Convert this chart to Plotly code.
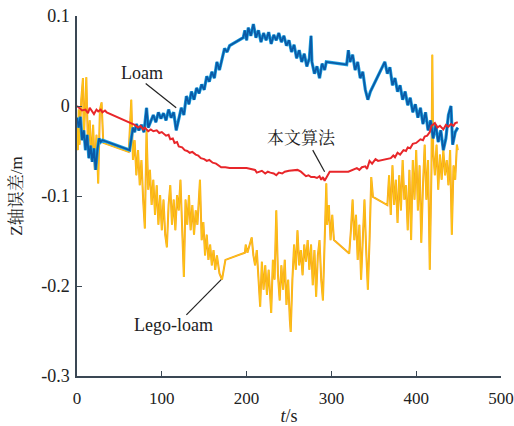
import plotly.graph_objects as go

# 本文算法 (red)
ours_t = [0, 3, 6, 10, 13, 15, 18, 20, 23, 25, 28, 30, 33, 35, 68, 72, 75, 78, 80, 84, 87, 90, 94, 97, 100, 103, 105, 108, 110, 113, 115, 118, 120, 124, 127, 130, 133, 136, 140, 143, 146, 150, 153, 156, 160, 164, 167, 170, 175, 180, 200, 205, 210, 212, 215, 218, 222, 225, 228, 232, 235, 238, 242, 245, 250, 260, 264, 268, 270, 273, 276, 280, 283, 286, 288, 290, 292, 295, 298, 320, 325, 330, 333, 336, 340, 342, 345, 348, 352, 355, 370, 373, 375, 378, 381, 385, 388, 390, 393, 396, 400, 405, 408, 410, 413, 416, 418, 422, 425, 428, 432, 435, 438, 441, 444, 446, 449]
ours_v = [0.0, -0.002, -0.005, -0.004, -0.008, -0.002, -0.006, -0.009, -0.004, -0.006, -0.004, -0.007, -0.005, -0.007, -0.021, -0.024, -0.022, -0.026, -0.024, -0.028, -0.026, -0.028, -0.027, -0.030, -0.029, -0.031, -0.033, -0.032, -0.037, -0.036, -0.041, -0.040, -0.045, -0.046, -0.049, -0.050, -0.052, -0.051, -0.054, -0.055, -0.058, -0.059, -0.061, -0.060, -0.063, -0.064, -0.066, -0.068, -0.068, -0.069, -0.069, -0.070, -0.071, -0.074, -0.073, -0.072, -0.075, -0.073, -0.074, -0.075, -0.077, -0.074, -0.075, -0.073, -0.072, -0.071, -0.073, -0.076, -0.078, -0.077, -0.079, -0.079, -0.080, -0.078, -0.082, -0.079, -0.083, -0.078, -0.073, -0.073, -0.071, -0.069, -0.071, -0.068, -0.067, -0.070, -0.061, -0.064, -0.059, -0.061, -0.058, -0.055, -0.057, -0.052, -0.054, -0.049, -0.050, -0.046, -0.047, -0.042, -0.041, -0.037, -0.038, -0.034, -0.033, -0.029, -0.022, -0.019, -0.024, -0.022, -0.026, -0.021, -0.023, -0.020, -0.022, -0.019, -0.018]

# Loam (blue)
loam_t = [0, 2, 4, 6, 8, 10, 12, 14, 16, 18, 20, 22, 24, 26, 28, 30, 62, 64, 66, 68, 70, 73, 76, 79, 82, 84, 87, 90, 93, 96, 99, 102, 105, 108, 111, 114, 117, 120, 123, 126, 129, 132, 135, 138, 141, 144, 147, 150, 153, 156, 159, 162, 165, 168, 171, 174, 177, 180, 196, 198, 200, 202, 205, 208, 211, 214, 217, 220, 223, 226, 229, 232, 235, 238, 241, 244, 247, 250, 253, 256, 259, 262, 265, 268, 271, 274, 276, 277, 280, 283, 286, 289, 292, 294, 318, 320, 322, 325, 328, 331, 334, 337, 340, 343, 346, 363, 366, 369, 372, 375, 378, 381, 384, 387, 390, 393, 396, 399, 402, 405, 408, 411, 414, 417, 420, 423, 426, 429, 432, 435, 438, 441, 443, 446, 449]
loam_v = [-0.013, -0.024, -0.012, -0.038, -0.027, -0.049, -0.032, -0.058, -0.044, -0.062, -0.047, -0.071, -0.049, -0.036, -0.040, -0.038, -0.049, -0.038, -0.024, -0.029, -0.020, -0.027, -0.021, -0.029, -0.002, -0.024, -0.016, -0.010, -0.018, -0.007, -0.014, -0.008, -0.016, -0.004, -0.013, -0.007, -0.027, -0.013, -0.002, -0.010, 0.011, 0.002, 0.016, 0.007, 0.020, 0.014, 0.024, 0.018, 0.033, 0.027, 0.038, 0.031, 0.049, 0.040, 0.053, 0.064, 0.060, 0.067, 0.076, 0.084, 0.073, 0.087, 0.078, 0.091, 0.076, 0.084, 0.071, 0.081, 0.073, 0.082, 0.069, 0.079, 0.073, 0.081, 0.071, 0.078, 0.067, 0.073, 0.060, 0.068, 0.053, 0.062, 0.049, 0.058, 0.044, 0.053, 0.078, 0.049, 0.036, 0.044, 0.031, 0.047, 0.040, 0.049, 0.046, 0.062, 0.049, 0.057, 0.040, 0.049, 0.031, 0.038, 0.018, 0.007, 0.016, 0.049, 0.036, 0.043, 0.023, 0.031, 0.016, 0.023, 0.007, 0.016, 0.001, 0.009, -0.007, 0.002, -0.013, -0.002, -0.020, -0.007, -0.027, -0.016, -0.036, -0.021, -0.040, -0.027, -0.049, -0.036, -0.010, 0.000, -0.043, -0.029, -0.024]

# Lego-loam (orange/yellow)
lego_t = [0, 1, 2, 3, 5, 7, 8, 10, 11, 13, 15, 17, 19, 21, 23, 25, 27, 29, 31, 61, 63, 64, 66, 68, 70, 72, 74, 76, 78, 80, 82, 84, 86, 88, 90, 92, 94, 96, 98, 100, 102, 104, 106, 108, 110, 112, 114, 116, 118, 120, 122, 124, 126, 128, 130, 132, 134, 136, 138, 140, 142, 145, 147, 149, 151, 153, 155, 157, 159, 161, 163, 165, 168, 171, 173, 175, 198, 199, 201, 204, 206, 208, 210, 212, 214, 216, 218, 220, 222, 224, 226, 228, 229, 231, 233, 235, 237, 239, 241, 243, 245, 247, 249, 251, 252, 254, 256, 258, 260, 262, 264, 266, 268, 270, 272, 274, 276, 278, 280, 282, 284, 286, 288, 290, 292, 294, 295, 297, 299, 301, 303, 321, 323, 325, 327, 329, 331, 333, 335, 337, 339, 341, 343, 345, 347, 349, 366, 368, 370, 372, 374, 376, 378, 380, 382, 384, 386, 388, 390, 392, 394, 396, 398, 400, 402, 404, 406, 408, 410, 412, 414, 416, 418, 419, 420, 422, 424, 426, 428, 430, 432, 434, 436, 438, 440, 442, 444, 446, 448, 449]
lego_v = [-0.021, -0.049, -0.004, -0.043, 0.007, 0.031, -0.038, 0.012, 0.032, -0.049, -0.016, -0.060, -0.021, -0.071, -0.032, -0.086, -0.004, 0.004, -0.041, -0.051, -0.016, 0.007, -0.060, -0.038, -0.077, -0.049, -0.088, -0.060, -0.104, -0.136, -0.027, -0.093, -0.071, -0.110, -0.082, -0.121, -0.088, -0.132, -0.099, -0.138, -0.104, -0.143, -0.157, -0.110, -0.088, -0.132, -0.104, -0.138, -0.099, -0.116, -0.082, -0.127, -0.190, -0.104, -0.132, -0.099, -0.138, -0.110, -0.143, -0.116, -0.132, -0.082, -0.149, -0.129, -0.166, -0.143, -0.171, -0.154, -0.177, -0.160, -0.182, -0.166, -0.186, -0.193, -0.180, -0.171, -0.163, -0.154, -0.163, -0.151, -0.146, -0.166, -0.177, -0.160, -0.188, -0.223, -0.173, -0.204, -0.177, -0.210, -0.182, -0.216, -0.230, -0.171, -0.193, -0.116, -0.188, -0.216, -0.177, -0.204, -0.171, -0.221, -0.193, -0.238, -0.251, -0.193, -0.154, -0.182, -0.138, -0.177, -0.160, -0.188, -0.154, -0.173, -0.149, -0.182, -0.154, -0.199, -0.160, -0.212, -0.166, -0.149, -0.193, -0.216, -0.138, -0.086, -0.132, -0.110, -0.149, -0.121, -0.149, -0.164, -0.138, -0.104, -0.149, -0.121, -0.171, -0.132, -0.193, -0.138, -0.104, -0.160, -0.204, -0.149, -0.079, -0.101, -0.110, -0.077, -0.121, -0.066, -0.110, -0.082, -0.130, -0.077, -0.116, -0.060, -0.104, -0.088, -0.138, -0.071, -0.149, -0.060, -0.104, -0.049, -0.116, -0.066, -0.152, -0.088, -0.043, -0.104, -0.060, -0.182, -0.071, 0.057, -0.049, -0.077, -0.043, -0.093, -0.054, -0.082, -0.049, -0.077, -0.060, -0.088, -0.049, -0.143, -0.066, -0.082, -0.043, -0.049]

x_ticks = [0, 100, 200, 300, 400, 500]
y_ticks = [-0.3, -0.2, -0.1, 0, 0.1]
y_tick_text = ["-0.3", "-0.2", "-0.1", "0", "0.1"]

fig = go.Figure()
fig.add_trace(go.Scatter(x=lego_t, y=lego_v, mode="lines", line=dict(color="#f6a21e", width=2.0), hoverinfo="skip"))
fig.add_trace(go.Scatter(x=lego_t, y=lego_v, mode="lines", line=dict(color="#ffc914", width=0.9), hoverinfo="skip"))
fig.add_trace(go.Scatter(x=loam_t, y=loam_v, mode="lines", line=dict(color="#1ea3e2", width=3.2), hoverinfo="skip"))
fig.add_trace(go.Scatter(x=loam_t, y=loam_v, mode="lines", line=dict(color="#0b5aa6", width=1.8), hoverinfo="skip"))
fig.add_trace(go.Scatter(x=ours_t, y=ours_v, mode="lines", line=dict(color="#e8262a", width=2.0), hoverinfo="skip"))

serif = "Liberation Serif"
cjk = "Liberation Serif, Noto Serif CJK SC"
axis_col = "#3a4754"
txt_col = "#222222"

fig.update_layout(
    width=514, height=426,
    margin=dict(l=77, r=13, t=16, b=50),
    paper_bgcolor="white", plot_bgcolor="white",
    showlegend=False,
    font=dict(family=serif, size=17, color=txt_col),
    xaxis=dict(range=[0, 500], tickvals=x_ticks, showgrid=False, zeroline=False, automargin=False,
               showline=True, linecolor=axis_col, linewidth=1.5,
               ticks="inside", ticklen=5, tickcolor=axis_col, tickwidth=1.2,
               ticklabelstandoff=6, ticklabeloverflow="allow",
               tickfont=dict(family=serif, size=17, color=txt_col),
               title=dict(text="<i>t</i>/s", font=dict(family=serif, size=18, color=txt_col), standoff=4)),
    yaxis=dict(range=[-0.3, 0.1], tickvals=y_ticks, ticktext=y_tick_text, showgrid=False, zeroline=False, automargin=False,
               showline=True, linecolor=axis_col, linewidth=1.5,
               ticks="inside", ticklen=5, tickcolor=axis_col, tickwidth=1.2,
               ticklabelstandoff=2, ticklabeloverflow="allow",
               tickfont=dict(family=serif, size=18, color=txt_col),
               title=dict(text="Z轴误差/m", font=dict(family=cjk, size=17, color=txt_col), standoff=14)),
)

fig.add_shape(type="line", x0=81, y0=0.025, x1=117, y1=-0.002, line=dict(color=txt_col, width=1.2))
fig.add_shape(type="line", x0=278, y0=-0.049, x1=292, y1=-0.073, line=dict(color=txt_col, width=1.2))
fig.add_shape(type="line", x0=129, y0=-0.232, x1=170, y1=-0.193, line=dict(color=txt_col, width=1.2))

fig.add_annotation(x=77, y=0.037, text="Loam", showarrow=False,
                   font=dict(family=serif, size=18, color=txt_col))
fig.add_annotation(x=265, y=-0.036, text="本文算法", showarrow=False,
                   font=dict(family=cjk, size=17, color=txt_col))
fig.add_annotation(x=114, y=-0.243, text="Lego-loam", showarrow=False,
                   font=dict(family=serif, size=18, color=txt_col))

fig.write_html("out.html")
